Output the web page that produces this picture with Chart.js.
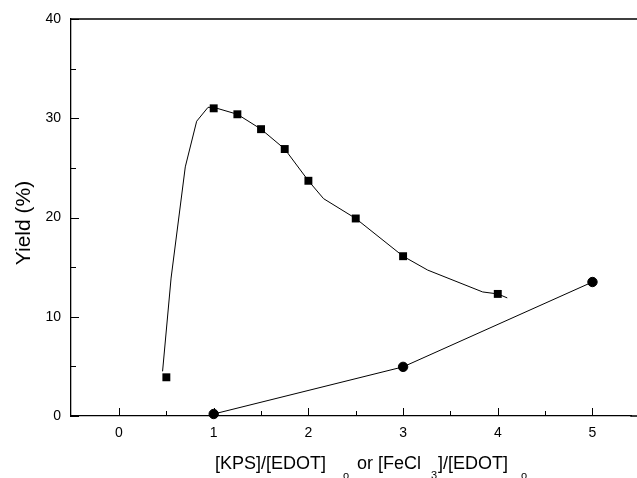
<!DOCTYPE html>
<html>
<head>
<meta charset="utf-8">
<script src="https://cdn.jsdelivr.net/npm/chart.js@4.4.1/dist/chart.umd.min.js"></script>
<style>
  html, body { margin: 0; padding: 0; background: #fff; overflow: hidden; }
  #wrap { width: 637px; height: 478px; }
</style>
</head>
<body>
<div id="wrap"><canvas id="yieldChart" width="637" height="478"></canvas></div>
<script>
// measured points, KPS oxidant (squares)
const kpsRatio = [0.5, 1, 1.25, 1.5, 1.75, 2, 2.5, 3, 4];
const kpsYield = [3.9, 31.0, 30.4, 28.9, 26.9, 23.7, 19.9, 16.1, 12.3];

// hand-drawn fit through the KPS points
const fitRatio = [0.46, 0.55, 0.70, 0.82, 0.94, 1.0, 1.25, 1.5, 1.75, 2.0, 2.16, 2.5, 3.0, 3.26, 3.84, 4.0, 4.1];
const fitYield = [4.5, 13.9, 25.1, 29.7, 31.1, 31.1, 30.4, 28.9, 26.9, 23.7, 21.9, 19.9, 16.1, 14.7, 12.5, 12.3, 11.9];

// FeCl3 oxidant (circles)
const fecl3Ratio = [1, 3, 5];
const fecl3Yield = [0.2, 4.95, 13.5];

// axis ticks
const xMajorTicks = [0, 1, 2, 3, 4, 5];
const xMinorTicks = [0.5, 1.5, 2.5, 3.5, 4.5];
const yMajorTicks = [0, 10, 20, 30, 40];
const yMinorTicks = [5, 15, 25, 35];

const FONT = '"Liberation Sans", Arial, sans-serif';

const toPts = (xs, ys) => xs.map((x, i) => ({ x: x, y: ys[i] }));

// inward tick marks + top frame line (frame runs off the right edge like the original)
const frameTicks = {
  id: 'frameTicks',
  afterDraw(chart) {
    const { ctx, chartArea: a, scales: { x, y } } = chart;
    ctx.save();
    ctx.strokeStyle = '#000';
    ctx.lineWidth = 1.3;
    ctx.beginPath();
    ctx.moveTo(a.left, a.top);
    ctx.lineTo(chart.width, a.top);
    ctx.moveTo(a.right - 1, a.bottom);
    ctx.lineTo(chart.width, a.bottom);
    ctx.stroke();
    ctx.lineWidth = 1;
    ctx.beginPath();
    xMajorTicks.forEach(v => {
      const px = Math.round(x.getPixelForValue(v)) + 0.5;
      ctx.moveTo(px, a.bottom); ctx.lineTo(px, a.bottom - 8);
    });
    xMinorTicks.forEach(v => {
      const px = Math.round(x.getPixelForValue(v)) + 0.5;
      ctx.moveTo(px, a.bottom); ctx.lineTo(px, a.bottom - 5);
    });
    yMajorTicks.forEach(v => {
      const py = Math.round(y.getPixelForValue(v)) + 0.5;
      ctx.moveTo(a.left, py); ctx.lineTo(a.left + 8, py);
    });
    yMinorTicks.forEach(v => {
      const py = Math.round(y.getPixelForValue(v)) + 0.5;
      ctx.moveTo(a.left, py); ctx.lineTo(a.left + 5, py);
    });
    ctx.stroke();
    ctx.restore();
  }
};

// axis titles (x title has subscripts)
const axisTitles = {
  id: 'axisTitles',
  afterDraw(chart) {
    const ctx = chart.ctx;
    ctx.save();
    ctx.fillStyle = '#000';
    ctx.textBaseline = 'alphabetic';

    ctx.save();
    ctx.translate(30, 223);
    ctx.rotate(-Math.PI / 2);
    ctx.textAlign = 'center';
    ctx.font = '21px ' + FONT;
    ctx.fillText('Yield (%)', 0, 0);
    ctx.restore();

    ctx.textAlign = 'left';
    const parts = [
      { t: '[KPS]/[EDOT]', x: 215, sub: false },
      { t: 'o', x: 343, sub: true },
      { t: 'or [FeCl', x: 357, sub: false },
      { t: '3', x: 431, sub: true },
      { t: ']/[EDOT]', x: 438, sub: false },
      { t: 'o', x: 521, sub: true }
    ];
    parts.forEach(p => {
      ctx.font = (p.sub ? '11px ' : '18px ') + FONT;
      ctx.fillText(p.t, p.x, p.sub ? 479 : 469);
    });
    ctx.restore();
  }
};

new Chart(document.getElementById('yieldChart').getContext('2d'), {
  type: 'scatter',
  data: {
    datasets: [
      {
        label: 'fit',
        data: toPts(fitRatio, fitYield),
        showLine: true,
        borderColor: '#000',
        borderWidth: 1,
        pointRadius: 0,
        tension: 0,
        clip: false
      },
      {
        label: 'KPS',
        data: toPts(kpsRatio, kpsYield),
        showLine: false,
        pointStyle: 'rect',
        pointRadius: 5.6,
        backgroundColor: '#000',
        borderColor: '#000',
        borderWidth: 0,
        clip: false
      },
      {
        label: 'FeCl3',
        data: toPts(fecl3Ratio, fecl3Yield),
        showLine: true,
        borderColor: '#000',
        borderWidth: 1,
        pointStyle: 'circle',
        pointRadius: 4.7,
        backgroundColor: '#000',
        tension: 0,
        clip: false
      }
    ]
  },
  options: {
    responsive: false,
    devicePixelRatio: 1,
    animation: false,
    layout: { padding: { top: 19, left: 0, right: 0, bottom: 0 } },
    plugins: { legend: { display: false }, tooltip: { enabled: false } },
    scales: {
      x: {
        type: 'linear',
        min: -0.507,
        max: 5.41,
        afterBuildTicks: s => { s.ticks = xMajorTicks.map(v => ({ value: v })); },
        afterFit: s => { s.height = 62; },
        grid: { display: false, drawTicks: false },
        border: { display: true, color: '#000', width: 1.3 },
        ticks: { color: '#000', padding: 9, maxRotation: 0, font: { family: FONT, size: 14 } }
      },
      y: {
        type: 'linear',
        min: 0,
        max: 40,
        afterBuildTicks: s => { s.ticks = yMajorTicks.map(v => ({ value: v })); },
        afterFit: s => { s.width = 71; },
        grid: { display: false, drawTicks: false },
        border: { display: true, color: '#000', width: 1.3 },
        ticks: { color: '#000', padding: 10, font: { family: FONT, size: 14 } }
      }
    }
  },
  plugins: [frameTicks, axisTitles]
});
</script>
</body>
</html>
